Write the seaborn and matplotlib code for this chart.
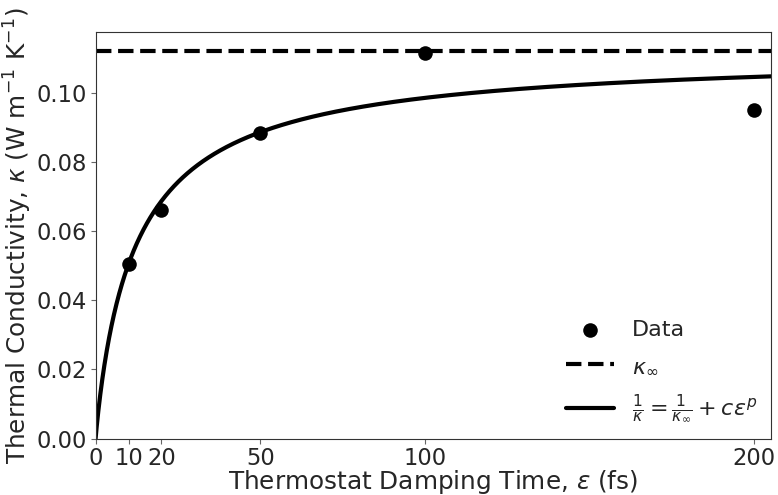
import numpy as np
import pandas as pd
import matplotlib
matplotlib.use("Agg")
import matplotlib.pyplot as plt
import seaborn as sns

# Measured thermal conductivity vs thermostat damping time
damping_fs = [10, 20, 50, 100, 200]
kappa = [0.0505, 0.0660, 0.0883, 0.1115, 0.0950]

# Fit parameters for 1/kappa = 1/kappa_inf + c * eps^p
kappa_inf = 0.112
c_fit = 96.9
p_fit = -0.95

x_ticks = [0, 10, 20, 50, 100, 200]
y_ticks = [0.00, 0.02, 0.04, 0.06, 0.08, 0.10]

sns.set_style("white", {"xtick.bottom": True, "ytick.left": True,
                        "axes.edgecolor": ".2"})

fig = plt.figure(figsize=(7.78, 4.95), dpi=100)
ax = fig.add_axes([0.1229, 0.1141, 0.8677, 0.8213])

eps = np.linspace(1e-3, 205, 2000)
fit = 1.0 / (1.0 / kappa_inf + c_fit * eps ** p_fit)
fit_df = pd.DataFrame({"eps": eps, "kappa": fit})
data_df = pd.DataFrame({"eps": damping_fs, "kappa": kappa})

sns.scatterplot(data=data_df, x="eps", y="kappa", ax=ax, color="black",
                s=110, edgecolor="black", linewidth=0, label="Data", zorder=3)
ax.axhline(kappa_inf, color="black", ls="--", lw=3, label=r"$\kappa_\infty$")
sns.lineplot(data=fit_df, x="eps", y="kappa", ax=ax, color="black", lw=3,
             label=r"$\frac{1}{\kappa}=\frac{1}{\kappa_\infty}+c\varepsilon^p$")

ax.set_xlim(0, 205)
ax.set_ylim(0, 0.1176)
ax.set_xticks(x_ticks)
ax.set_xticklabels([str(t) for t in x_ticks])
ax.set_yticks(y_ticks)
ax.set_yticklabels([f"{t:.2f}" for t in y_ticks])
ax.tick_params(labelsize=16.3, length=3.5, width=0.8, colors=".4",
               labelcolor=".15", pad=2.5)

ax.set_xlabel(r"Thermostat Damping Time, $\varepsilon$ (fs)", fontsize=17.8,
              color=".15", labelpad=-1.5)
ax.set_ylabel(r"Thermal Conductivity, $\kappa$ (W m$^{-1}$ K$^{-1}$)",
              fontsize=17.8, color=".15", labelpad=2)

leg = ax.legend(loc="lower right", frameon=False, fontsize=16,
                handlelength=2.2, labelspacing=0.75, borderaxespad=0.2)
for t in leg.get_texts():
    t.set_color(".15")

fig.savefig("out.png", dpi=100)
